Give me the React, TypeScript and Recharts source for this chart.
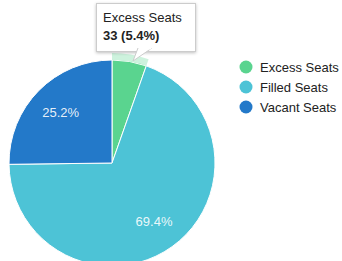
import { Cell, Legend, Pie, PieChart, Tooltip } from "recharts";

const seatLabels = ["Excess Seats", "Filled Seats", "Vacant Seats"];
const seatCounts = [33, 424, 154];
const seatColors = ["#5ad48f", "#4dc3d6", "#2379c9"];

const FONT = "'Liberation Sans', Arial, sans-serif";

const total = seatCounts.reduce((a, b) => a + b, 0);
const data = seatLabels.map((name, i) => ({ name, value: seatCounts[i] }));

const RAD = Math.PI / 180;

function renderLabel(props: any) {
  const { cx, cy, midAngle, outerRadius, percent } = props;
  if (percent < 0.1) return null;
  const r = outerRadius * 0.7;
  const x = cx + r * Math.cos(-midAngle * RAD);
  const y = cy + r * Math.sin(-midAngle * RAD);
  return (
    <text x={x} y={y} fill="#ffffff" fillOpacity={0.9} textAnchor="middle" dominantBaseline="central" fontSize={13} fontFamily={FONT}>
      {(percent * 100).toFixed(1)}%
    </text>
  );
}

function SeatTooltip({ payload }: any) {
  if (!payload || !payload.length) return null;
  const item = payload[0];
  const pct = ((item.value / total) * 100).toFixed(1);
  return (
    <div style={{ position: "relative", fontFamily: FONT, fontSize: 13, color: "#222" }}>
      <div
        style={{
          background: "#fff",
          border: "1px solid #cccccc",
          boxShadow: "0 1px 3px rgba(0,0,0,0.25)",
          padding: "5px 8px 6px 6px",
          width: 84,
          lineHeight: "18px",
        }}
      >
        <div>{item.name}</div>
        <div style={{ fontWeight: "bold" }}>
          {item.value} ({pct}%)
        </div>
      </div>
      <svg width={40} height={16} style={{ position: "absolute", left: 34, top: 45 }}>
        <polygon points="8,0 22,0 3,13" fill="#fff" stroke="#cccccc" />
        <line x1={8.5} y1={0.5} x2={21.5} y2={0.5} stroke="#fff" strokeWidth={2} />
      </svg>
    </div>
  );
}

function SeatLegend() {
  return (
    <div style={{ fontFamily: FONT, fontSize: 13, color: "#222" }}>
      {seatLabels.map((name, i) => (
        <div key={name} style={{ display: "flex", alignItems: "center", height: 20 }}>
          <svg width={14} height={14} style={{ marginRight: 7 }}>
            <circle cx={7} cy={7} r={6.5} fill={seatColors[i]} />
          </svg>
          <span>{name}</span>
        </div>
      ))}
    </div>
  );
}

export default function App() {
  return (
    <div style={{ position: "absolute", left: 0, top: 0, width: 342, height: 261, background: "#fff", overflow: "hidden" }}>
      <PieChart width={342} height={261} margin={{ top: 0, right: 0, bottom: 0, left: 0 }}>
        <Pie
          data={data}
          dataKey="value"
          nameKey="name"
          cx={112}
          cy={163}
          outerRadius={103}
          startAngle={90}
          endAngle={-270}
          stroke="#ffffff"
          strokeWidth={1}
          label={renderLabel}
          labelLine={false}
          isAnimationActive={false}
        >
          {data.map((d, i) => (
            <Cell key={d.name} fill={seatColors[i]} />
          ))}
        </Pie>
        <Pie
          data={data}
          dataKey="value"
          cx={112}
          cy={163}
          innerRadius={103}
          outerRadius={110}
          startAngle={90}
          endAngle={-270}
          stroke="none"
          isAnimationActive={false}
          legendType="none"
          tooltipType="none"
        >
          {data.map((d, i) => (
            <Cell key={d.name} fill={i === 0 ? seatColors[0] : "transparent"} fillOpacity={i === 0 ? 0.3 : 0} />
          ))}
        </Pie>
        <Tooltip
          defaultIndex={0}
          active
          content={<SeatTooltip />}
          position={{ x: 96, y: 3 }}
          isAnimationActive={false}
          wrapperStyle={{ outline: "none" }}
        />
        <Legend
          layout="vertical"
          align="right"
          verticalAlign="top"
          content={<SeatLegend />}
          wrapperStyle={{ left: 239, top: 57, width: 103 }}
        />
      </PieChart>
    </div>
  );
}
